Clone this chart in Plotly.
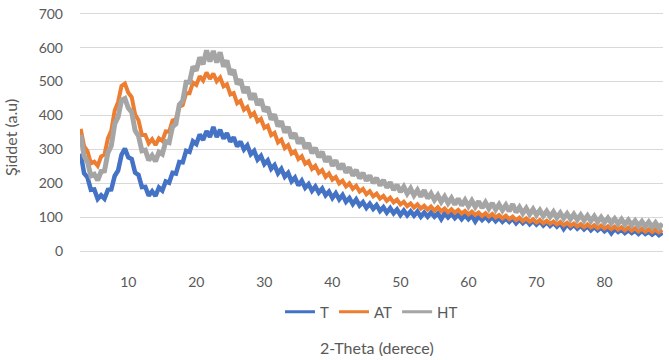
import plotly.graph_objects as go

# 2-Theta sampling grid (degrees), 0.5 deg step from 3.0 to 88.5
theta_start = 3.0
theta_step = 0.5
n_points = 172
two_theta = [theta_start + theta_step * i for i in range(n_points)]

# T (blue) intensities
T = [288, 230, 218, 181, 182, 154, 165, 155, 181, 182, 222, 238, 284, 303, 277, 272, 232, 225, 189, 190,
     164, 177, 163, 188, 179, 206, 202, 231, 229, 263, 262, 296, 293, 324, 316, 344, 328, 354, 337, 366,
     337, 358, 332, 348, 323, 336, 309, 323, 300, 312, 286, 296, 270, 281, 257, 268, 243, 254, 230, 243,
     220, 231, 206, 217, 194, 208, 187, 198, 178, 191, 173, 185, 165, 176, 157, 171, 153, 166, 146, 157,
     139, 153, 135, 145, 128, 140, 125, 136, 119, 130, 114, 127, 112, 123, 107, 120, 106, 118, 105, 117,
     102, 114, 102, 114, 102, 112, 95, 112, 100, 111, 98, 108, 95, 107, 95, 105, 88, 103, 92, 102,
     91, 101, 89, 99, 87, 97, 87, 97, 83, 94, 83, 92, 80, 90, 79, 88, 76, 86, 75, 84,
     73, 83, 66, 80, 69, 78, 67, 76, 65, 74, 62, 72, 62, 70, 59, 67, 53, 66, 57, 64,
     54, 62, 54, 61, 51, 60, 51, 58, 49, 57, 48, 55]

# AT (orange) intensities
AT = [361, 310, 295, 259, 264, 252, 279, 285, 333, 356, 415, 440, 487, 494, 467, 454, 403, 386, 343, 343,
      318, 330, 313, 333, 325, 353, 352, 385, 389, 426, 431, 466, 466, 497, 490, 516, 503, 527, 508, 524,
      501, 512, 486, 492, 462, 466, 436, 443, 417, 425, 399, 408, 383, 390, 364, 370, 342, 349, 321, 329,
      304, 313, 288, 295, 272, 280, 258, 265, 243, 252, 231, 239, 219, 229, 211, 219, 200, 208, 191, 200,
      184, 193, 176, 184, 168, 177, 162, 170, 155, 163, 149, 158, 144, 152, 138, 146, 133, 141, 129, 138,
      126, 134, 123, 132, 120, 130, 118, 126, 115, 124, 114, 122, 111, 119, 109, 117, 107, 114, 104, 112,
      102, 110, 100, 107, 97, 105, 95, 102, 92, 99, 89, 97, 87, 94, 85, 92, 83, 90, 81, 88,
      79, 86, 77, 84, 75, 82, 73, 80, 71, 79, 70, 77, 68, 76, 67, 74, 65, 73, 64, 71,
      62, 70, 61, 68, 59, 67, 58, 65, 57, 64, 56, 63]

# HT (gray) intensities
HT = [343, 281, 263, 222, 227, 209, 235, 237, 290, 311, 375, 396, 445, 450, 422, 410, 356, 340, 296, 298,
      268, 282, 265, 292, 286, 323, 320, 367, 375, 432, 443, 498, 498, 544, 532, 571, 551, 592, 559, 590,
      556, 586, 544, 562, 521, 535, 492, 506, 467, 484, 447, 465, 431, 448, 412, 425, 388, 403, 368, 383,
      350, 366, 333, 348, 318, 334, 304, 319, 289, 305, 277, 293, 264, 279, 252, 268, 242, 258, 232, 247,
      223, 240, 215, 231, 208, 223, 201, 216, 194, 210, 188, 203, 181, 196, 175, 190, 170, 185, 165, 180,
      161, 180, 156, 170, 151, 165, 146, 161, 142, 157, 138, 155, 135, 151, 133, 149, 131, 147, 128, 144,
      126, 142, 123, 138, 121, 136, 118, 139, 115, 130, 112, 127, 109, 124, 107, 121, 104, 118, 102, 116,
      99, 113, 97, 111, 95, 109, 93, 107, 91, 105, 89, 103, 87, 100, 85, 98, 83, 96, 81, 94,
      79, 92, 77, 90, 75, 88, 73, 86, 71, 84, 69, 82]

assert len(T) == n_points, len(T)
assert len(AT) == n_points, len(AT)
assert len(HT) == n_points, len(HT)

series_names = ["T", "AT", "HT"]
x_tick_labels = [10, 20, 30, 40, 50, 60, 70, 80]
y_tick_labels = [0, 100, 200, 300, 400, 500, 600, 700]

colors = {"T": "#4472C4", "AT": "#ED7D31", "HT": "#A5A5A5"}
widths = {"T": 4.5, "AT": 4, "HT": 5}
data = {"T": T, "AT": AT, "HT": HT}

FONT = "Lato, 'Open Sans', sans-serif"
TXT = "#595959"

fig = go.Figure()
for name in series_names:
    fig.add_trace(go.Scatter(
        x=two_theta, y=data[name], mode="lines", name=name, showlegend=False,
        legendgroup=name, line=dict(color=colors[name], width=widths[name]),
    ))
# legend entries with thin line symbols
for name in series_names:
    fig.add_trace(go.Scatter(
        x=[None], y=[None], mode="lines", name=name, legendgroup=name,
        line=dict(color=colors[name], width=3),
    ))

fig.update_layout(
    width=669, height=360,
    margin=dict(l=80, r=6, t=12, b=107),
    paper_bgcolor="white", plot_bgcolor="white",
    font=dict(family=FONT, color=TXT, size=14),
    showlegend=True,
    legend=dict(orientation="h", x=0.5, xanchor="center", y=-0.245, yanchor="middle",
                font=dict(size=15, color=TXT), itemwidth=30, bgcolor="rgba(0,0,0,0)"),
    annotations=[
        dict(text="2-Theta (derece)", xref="paper", yref="paper", x=0.51, y=-0.392,
             showarrow=False, font=dict(size=16, color=TXT), xanchor="center", yanchor="middle"),
        dict(text="Şiddet (a.u)", xref="paper", yref="paper", x=-0.12, y=0.477,
             showarrow=False, textangle=-90, font=dict(size=16, color=TXT),
             xanchor="center", yanchor="middle"),
    ],
)
fig.update_xaxes(
    range=[2.9, 88.6], tickvals=x_tick_labels, ticktext=[str(v) for v in x_tick_labels],
    showgrid=False, zeroline=False, showline=False, ticks="",
    ticklabelstandoff=19, tickfont=dict(size=14, color=TXT),
)
fig.update_yaxes(
    range=[-5, 705], tickvals=y_tick_labels, ticktext=[str(v) for v in y_tick_labels],
    showgrid=True, gridcolor="#D9D9D9", gridwidth=1, zeroline=False, showline=False, ticks="",
    ticklabelstandoff=16, tickfont=dict(size=14, color=TXT),
)

fig.write_html("out.html")
